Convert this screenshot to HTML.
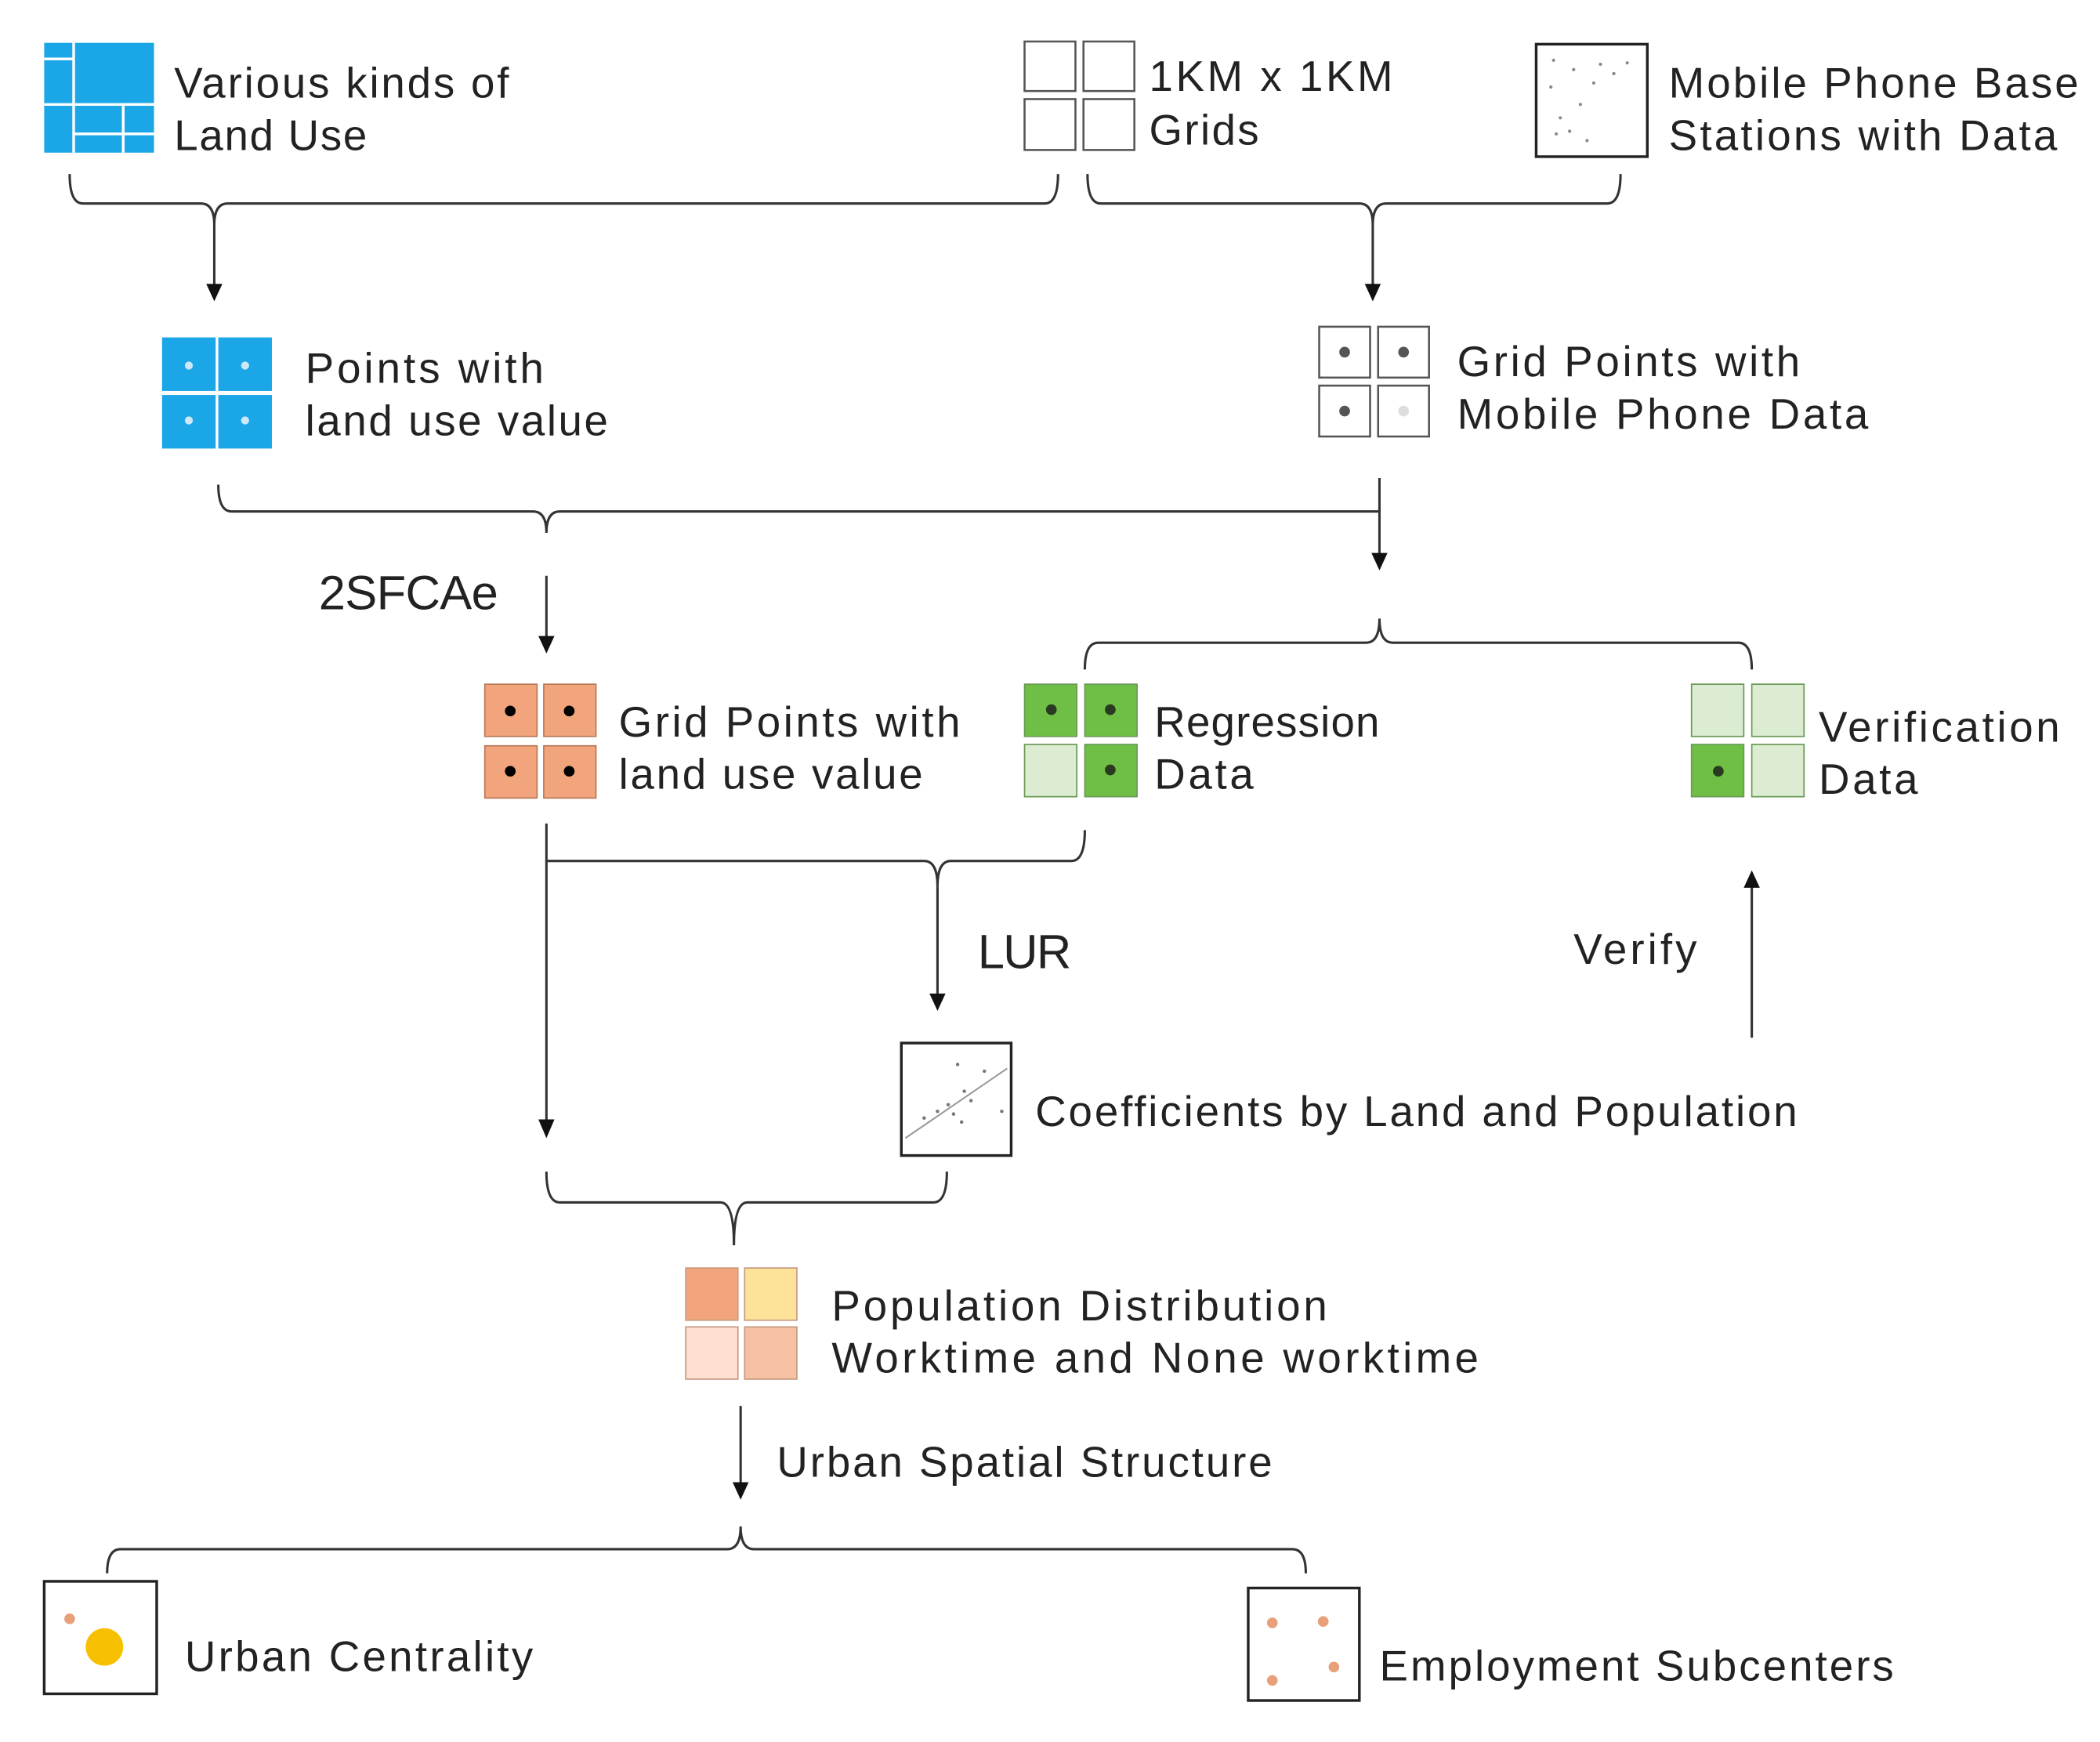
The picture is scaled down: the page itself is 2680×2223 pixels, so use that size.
<!DOCTYPE html>
<html><head><meta charset="utf-8"><style>
html,body{margin:0;padding:0;background:#fff;width:2680px;height:2223px;overflow:hidden}
svg{display:block}
text{font-family:"Liberation Sans",sans-serif;font-size:32px;fill:#222}
</style></head><body>
<svg width="2680" height="2223" viewBox="0 0 1568 1301" preserveAspectRatio="none" xmlns="http://www.w3.org/2000/svg">
<defs><marker id="ah" markerWidth="10" markerHeight="10" refX="5" refY="9" orient="auto" markerUnits="userSpaceOnUse"><path d="M0,0 L10,0 L5,10 Z" fill="#111" transform="rotate(0)"/></marker></defs>
<g fill="none" stroke="#333" stroke-width="1.8">
<!-- B1 -->
<path d="M52,130 Q52,152 62,152 L150,152 Q160,152 160,168 Q160,152 170,152 L780,152 Q790,152 790,130"/>
<!-- B2 -->
<path d="M812,130 Q812,152 822,152 L1015,152 Q1025,152 1025,168 Q1025,152 1035,152 L1200,152 Q1210,152 1210,130"/>
<!-- B3 -->
<path d="M163,362 Q163,382 173,382 L398,382 Q408,382 408,398 Q408,382 418,382 L1030,382"/>
<line x1="1030" y1="357" x2="1030" y2="416"/>
<!-- B4 -->
<path d="M810,500 Q810,480 820,480 L1020,480 Q1030,480 1030,462 Q1030,480 1040,480 L1298,480 Q1308,480 1308,500"/>
<!-- B5 -->
<path d="M408,643 L690,643 Q700,643 700,662 Q700,643 710,643 L800,643 Q810,643 810,620"/>
<line x1="408" y1="615" x2="408" y2="838"/>
<!-- B6 -->
<path d="M408,875 Q408,898 418,898 L538,898 Q548,898 548,930 Q548,898 558,898 L697,898 Q707,898 707,875"/>
<!-- B7 -->
<path d="M80,1175 Q80,1157 90,1157 L543,1157 Q553,1157 553,1140 Q553,1157 563,1157 L965,1157 Q975,1157 975,1175"/>
<!-- arrows -->
<line x1="160" y1="168" x2="160" y2="215"/>
<line x1="1025" y1="168" x2="1025" y2="215"/>
<line x1="408" y1="430" x2="408" y2="478"/>
<line x1="700" y1="662" x2="700" y2="745"/>
<line x1="553" y1="1050" x2="553" y2="1110"/>
<line x1="1308" y1="775" x2="1308" y2="660"/>
</g>
<g fill="#111">
<path d="M154,212 L166,212 L160,225 Z"/>
<path d="M1019,212 L1031,212 L1025,225 Z"/>
<path d="M1024,413 L1036,413 L1030,426 Z"/>
<path d="M402,475 L414,475 L408,488 Z"/>
<path d="M402,836 L414,836 L408,850 Z"/>
<path d="M694,742 L706,742 L700,755 Z"/>
<path d="M547,1107 L559,1107 L553,1120 Z"/>
<path d="M1302,663 L1314,663 L1308,650 Z"/>
</g>
<!-- Land use icon -->
<rect x="33" y="32" width="82" height="82" fill="#1ba6e8"/>
<g stroke="#fff" stroke-width="2"><line x1="55" y1="32" x2="55" y2="114"/><line x1="33" y1="44" x2="55" y2="44"/><line x1="33" y1="78" x2="115" y2="78"/><line x1="90" y1="78" x2="115" y2="78"/><line x1="92" y1="78" x2="92" y2="114"/><line x1="55" y1="100" x2="115" y2="100"/></g>
<!-- Points icon -->
<g fill="#1ba6e8"><rect x="121" y="252" width="40" height="40"/><rect x="163" y="252" width="40" height="40"/><rect x="121" y="295" width="40" height="40"/><rect x="163" y="295" width="40" height="40"/></g>
<g fill="#cde9f8"><circle cx="141" cy="273" r="3"/><circle cx="183" cy="273" r="3"/><circle cx="141" cy="314" r="3"/><circle cx="183" cy="314" r="3"/></g>
<!-- 1km grids -->
<g fill="#fff" stroke="#555" stroke-width="1.5"><rect x="765" y="31" width="38" height="37"/><rect x="809" y="31" width="38" height="37"/><rect x="765" y="74" width="38" height="38"/><rect x="809" y="74" width="38" height="38"/></g>
<!-- mobile stations -->
<rect x="1147" y="33" width="83" height="84" fill="#fff" stroke="#222" stroke-width="2"/>
<g fill="#888"><circle cx="1160" cy="45" r="1.2"/><circle cx="1175" cy="52" r="1.2"/><circle cx="1195" cy="48" r="1.2"/><circle cx="1205" cy="55" r="1.2"/><circle cx="1215" cy="47" r="1.2"/><circle cx="1190" cy="62" r="1.2"/><circle cx="1158" cy="65" r="1.2"/><circle cx="1180" cy="78" r="1.2"/><circle cx="1165" cy="88" r="1.2"/><circle cx="1172" cy="98" r="1.2"/><circle cx="1185" cy="105" r="1.2"/><circle cx="1162" cy="100" r="1.2"/></g>
<!-- grid points mobile -->
<g fill="#fff" stroke="#555" stroke-width="1.5"><rect x="985" y="244" width="38" height="38"/><rect x="1029" y="244" width="38" height="38"/><rect x="985" y="288" width="38" height="38"/><rect x="1029" y="288" width="38" height="38"/></g>
<g fill="#555"><circle cx="1004" cy="263" r="4"/><circle cx="1048" cy="263" r="4"/><circle cx="1004" cy="307" r="4"/></g><circle cx="1048" cy="307" r="4" fill="#ddd"/>
<!-- orange grid -->
<g fill="#f2a57c" stroke="#b87a58" stroke-width="1"><rect x="362" y="511" width="39" height="39"/><rect x="406" y="511" width="39" height="39"/><rect x="362" y="557" width="39" height="39"/><rect x="406" y="557" width="39" height="39"/></g>
<g fill="#000"><circle cx="381" cy="531" r="4"/><circle cx="425" cy="531" r="4"/><circle cx="381" cy="576" r="4"/><circle cx="425" cy="576" r="4"/></g>
<!-- regression -->
<g stroke="#6a9a55" stroke-width="1"><rect x="765" y="511" width="39" height="39" fill="#6fbf47"/><rect x="810" y="511" width="39" height="39" fill="#6fbf47"/><rect x="765" y="556" width="39" height="39" fill="#dbecd2"/><rect x="810" y="556" width="39" height="39" fill="#6fbf47"/></g>
<g fill="#2a3a20"><circle cx="785" cy="530" r="4"/><circle cx="829" cy="530" r="4"/><circle cx="829" cy="575" r="4"/></g>
<!-- verification -->
<g stroke="#6a9a55" stroke-width="1"><rect x="1263" y="511" width="39" height="39" fill="#dbecd2"/><rect x="1308" y="511" width="39" height="39" fill="#dbecd2"/><rect x="1263" y="556" width="39" height="39" fill="#6fbf47"/><rect x="1308" y="556" width="39" height="39" fill="#dbecd2"/></g>
<circle cx="1283" cy="576" r="4" fill="#2a3a20"/>
<!-- coefficients -->
<rect x="673" y="779" width="82" height="84" fill="#fff" stroke="#222" stroke-width="2"/>
<line x1="676" y1="850" x2="752" y2="798" stroke="#999" stroke-width="1.2"/>
<g fill="#777"><circle cx="715" cy="795" r="1.3"/><circle cx="735" cy="800" r="1.3"/><circle cx="720" cy="815" r="1.3"/><circle cx="708" cy="825" r="1.3"/><circle cx="700" cy="830" r="1.3"/><circle cx="712" cy="832" r="1.3"/><circle cx="725" cy="822" r="1.3"/><circle cx="690" cy="835" r="1.3"/><circle cx="748" cy="830" r="1.3"/><circle cx="718" cy="838" r="1.3"/></g>
<!-- population -->
<g stroke="#c89a80" stroke-width="1"><rect x="512" y="947" width="39" height="39" fill="#f2a57c"/><rect x="556" y="947" width="39" height="39" fill="#fde39a"/><rect x="512" y="991" width="39" height="39" fill="#fde0d0"/><rect x="556" y="991" width="39" height="39" fill="#f6c0a2"/></g>
<!-- urban centrality -->
<rect x="33" y="1181" width="84" height="84" fill="#fff" stroke="#222" stroke-width="2"/>
<circle cx="52" cy="1209" r="4" fill="#e8a07a"/><circle cx="78" cy="1230" r="14" fill="#f7c000"/>
<!-- employment -->
<rect x="932" y="1186" width="83" height="84" fill="#fff" stroke="#222" stroke-width="2"/>
<g fill="#e8a07a"><circle cx="950" cy="1212" r="4"/><circle cx="988" cy="1211" r="4"/><circle cx="996" cy="1245" r="4"/><circle cx="950" cy="1255" r="4"/></g>
<!-- text -->
<text x="130" y="73" textLength="250">Various kinds of</text>
<text x="130" y="112" textLength="144">Land Use</text>
<text x="858" y="68" textLength="182">1KM x 1KM</text>
<text x="858" y="108" textLength="82">Grids</text>
<text x="1246" y="73" textLength="306">Mobile Phone Base</text>
<text x="1246" y="112" textLength="290">Stations with Data</text>
<text x="228" y="286" textLength="178">Points with</text>
<text x="228" y="325" textLength="226">land use value</text>
<text x="1088" y="281" textLength="256">Grid Points with</text>
<text x="1088" y="320" textLength="307">Mobile Phone Data</text>
<text x="238" y="455" style="font-size:36px" textLength="134">2SFCAe</text>
<text x="462" y="550" textLength="255">Grid Points with</text>
<text x="462" y="589" textLength="227">land use value</text>
<text x="862" y="550" textLength="168">Regression</text>
<text x="862" y="589" textLength="74">Data</text>
<text x="1358" y="554" textLength="180">Verification</text>
<text x="1358" y="593" textLength="74">Data</text>
<text x="730" y="723" style="font-size:36px" textLength="70">LUR</text>
<text x="1175" y="720" textLength="92">Verify</text>
<text x="773" y="841" textLength="569">Coefficients by Land and Population</text>
<text x="621" y="986" textLength="370">Population Distribution</text>
<text x="621" y="1025" textLength="483">Worktime and None worktime</text>
<text x="580" y="1103" textLength="370">Urban Spatial Structure</text>
<text x="138" y="1248" textLength="260">Urban Centrality</text>
<text x="1030" y="1255" textLength="384">Employment Subcenters</text>
</svg>
</body></html>
